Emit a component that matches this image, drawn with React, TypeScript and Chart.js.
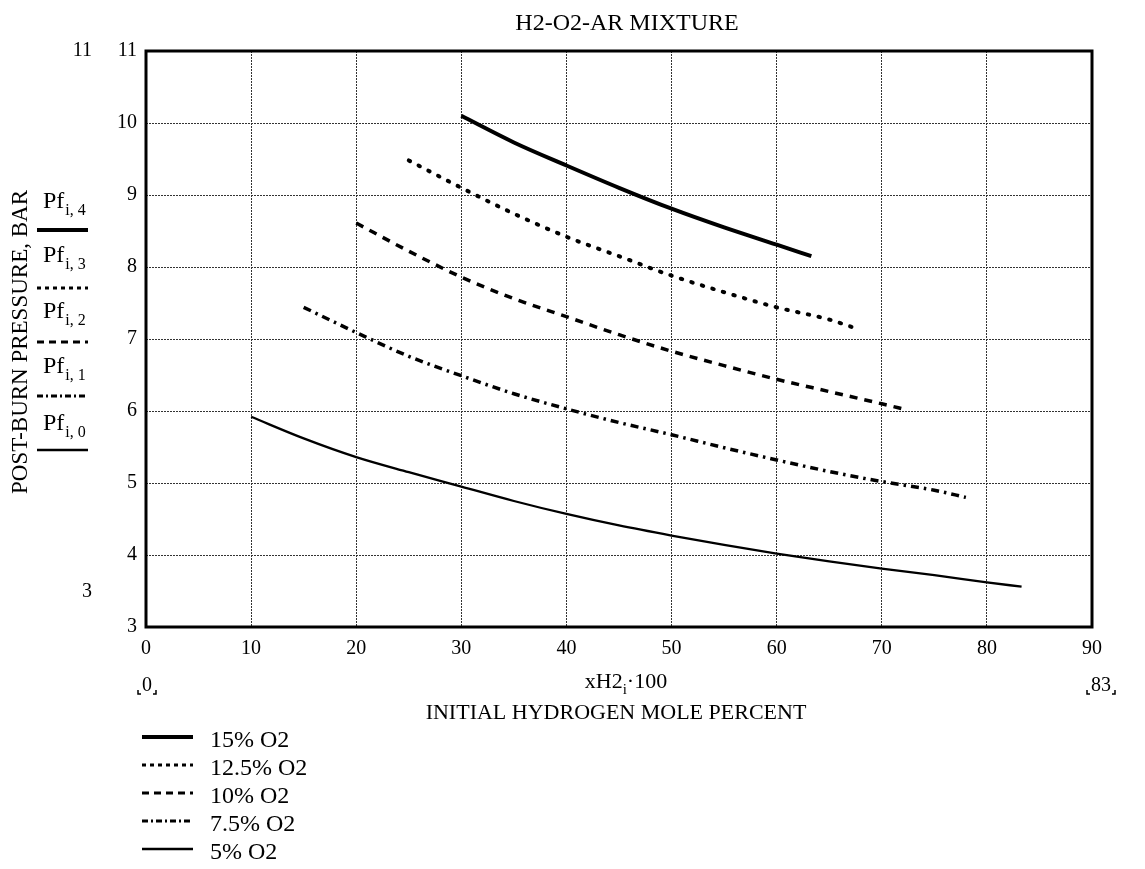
import React, { useEffect, useRef } from "react";
import { Chart, registerables } from "chart.js";

Chart.register(...registerables);

// ---- Data ----
const X_MIN = 0;
const X_MAX = 90;
const Y_MIN = 3;
const Y_MAX = 11;

const x15 = [30, 35, 40, 45, 50, 55, 60, 63.3];
const y15 = [10.1, 9.73, 9.41, 9.1, 8.81, 8.55, 8.31, 8.15];

const x125 = [25, 30, 35, 40, 45, 50, 55, 60, 65, 67.5];
const y125 = [9.48, 9.1, 8.74, 8.42, 8.15, 7.88, 7.65, 7.44, 7.27, 7.15];

const x10 = [20, 25, 30, 35, 40, 45, 50, 55, 60, 65, 70, 72.3];
const y10 = [8.61, 8.22, 7.86, 7.56, 7.31, 7.06, 6.83, 6.63, 6.44, 6.27, 6.1, 6.02];

const x75 = [15, 20, 25, 30, 35, 40, 45, 50, 55, 60, 65, 70, 75, 78];
const y75 = [7.44, 7.09, 6.76, 6.49, 6.24, 6.03, 5.84, 5.67, 5.49, 5.32, 5.16, 5.02, 4.9, 4.8];

const x5 = [10, 15, 20, 25, 30, 35, 40, 45, 50, 55, 60, 65, 70, 75, 80, 83.3];
const y5 = [5.92, 5.62, 5.36, 5.15, 4.95, 4.75, 4.57, 4.41, 4.27, 4.14, 4.02, 3.91, 3.81, 3.72, 3.62, 3.56];

const SERIES_LABELS = ["15% O2", "12.5% O2", "10% O2", "7.5% O2", "5% O2"];
const PF_INDEX = ["4", "3", "2", "1", "0"];

const FONT = '"Liberation Serif", "Times New Roman", serif';
const f = (s: number) => `${s}px ${FONT}`;

const pts = (xs: number[], ys: number[]) => xs.map((x, i) => ({ x, y: ys[i] }));

// styles for the plotted curves
const STYLES = [
  { width: 4, dash: [] as number[], cap: "butt" },
  { width: 4, dash: [1.5, 9.5], cap: "round" },
  { width: 3.5, dash: [8, 7], cap: "butt" },
  { width: 3.5, dash: [8, 5, 2.5, 5], cap: "butt" },
  { width: 2.3, dash: [] as number[], cap: "butt" },
];

// small legend-line styles
const LEG_STYLES = [
  { width: 4, dash: [] as number[] },
  { width: 3, dash: [4, 4] },
  { width: 3, dash: [7, 5] },
  { width: 3, dash: [6, 3, 2, 3] },
  { width: 2.5, dash: [] as number[] },
];

function drawLegendLine(ctx: CanvasRenderingContext2D, x1: number, x2: number, y: number, st: { width: number; dash: number[] }) {
  ctx.save();
  ctx.strokeStyle = "#000";
  ctx.lineWidth = st.width;
  ctx.setLineDash(st.dash);
  ctx.beginPath();
  ctx.moveTo(x1, y);
  ctx.lineTo(x2, y);
  ctx.stroke();
  ctx.restore();
}

function bracketText(ctx: CanvasRenderingContext2D, text: string, cx: number, cy: number) {
  ctx.font = f(20);
  ctx.textAlign = "center";
  ctx.textBaseline = "middle";
  ctx.fillText(text, cx, cy);
  const w = ctx.measureText(text).width;
  const bl = cy + 8;
  ctx.save();
  ctx.lineWidth = 1.5;
  ctx.beginPath();
  ctx.moveTo(cx - w / 2 - 4, bl - 4);
  ctx.lineTo(cx - w / 2 - 4, bl);
  ctx.lineTo(cx - w / 2 - 1, bl);
  ctx.moveTo(cx + w / 2 + 1, bl);
  ctx.lineTo(cx + w / 2 + 4, bl);
  ctx.lineTo(cx + w / 2 + 4, bl - 4);
  ctx.stroke();
  ctx.restore();
}

const annotPlugin = {
  id: "annot",
  afterDraw(chart: any) {
    const ctx: CanvasRenderingContext2D = chart.ctx;
    const a = chart.chartArea;
    ctx.save();
    ctx.fillStyle = "#000";
    ctx.strokeStyle = "#000";

    // frame
    ctx.lineWidth = 3;
    ctx.strokeRect(a.left, a.top, a.right - a.left, a.bottom - a.top);

    // title
    ctx.font = f(24);
    ctx.textAlign = "center";
    ctx.textBaseline = "middle";
    ctx.fillText("H2-O2-AR MIXTURE", 627, 24);

    // y title
    ctx.save();
    ctx.translate(21, 342);
    ctx.rotate(-Math.PI / 2);
    ctx.font = f(23);
    ctx.fillText("POST-BURN PRESSURE, BAR", 0, 0);
    ctx.restore();

    // extra range labels at left
    ctx.font = f(20);
    ctx.textAlign = "right";
    ctx.fillText("11", 92, 51);
    ctx.fillText("3", 92, 592);

    // Pf labels with line styles
    const baselines = [208, 262, 318, 373, 430];
    const lines = [230, 288, 342, 396, 450];
    for (let i = 0; i < 5; i++) {
      ctx.textAlign = "left";
      ctx.textBaseline = "alphabetic";
      ctx.font = f(24);
      ctx.fillText("Pf", 43, baselines[i]);
      const w = ctx.measureText("Pf").width;
      ctx.font = f(16);
      ctx.fillText("i, " + PF_INDEX[i], 43 + w + 1, baselines[i] + 7);
      drawLegendLine(ctx, 37, 88, lines[i], LEG_STYLES[i]);
    }

    // x-axis expression and label
    ctx.textBaseline = "alphabetic";
    const part1 = "xH2";
    const part2 = "\u00b7100";
    ctx.font = f(22);
    const w1 = ctx.measureText(part1).width;
    const w2 = ctx.measureText(part2).width;
    ctx.font = f(15);
    const ws = ctx.measureText("i").width;
    const total = w1 + ws + w2;
    const sx = 626 - total / 2;
    ctx.textAlign = "left";
    ctx.font = f(22);
    ctx.fillText(part1, sx, 688);
    ctx.font = f(15);
    ctx.fillText("i", sx + w1, 694);
    ctx.font = f(22);
    ctx.fillText(part2, sx + w1 + ws, 688);

    ctx.textAlign = "center";
    ctx.textBaseline = "middle";
    ctx.fillText("INITIAL HYDROGEN MOLE PERCENT", 616, 713);

    // range markers
    bracketText(ctx, "0", 147, 686);
    bracketText(ctx, "83", 1101, 686);

    // legend
    const ly = [737, 765, 793, 821, 849];
    for (let i = 0; i < 5; i++) {
      drawLegendLine(ctx, 142, 193, ly[i], LEG_STYLES[i]);
      ctx.font = f(24);
      ctx.textAlign = "left";
      ctx.textBaseline = "middle";
      ctx.fillStyle = "#000";
      ctx.fillText(SERIES_LABELS[i], 210, ly[i] + 4);
    }
    ctx.restore();
  },
};

export default function App() {
  const ref = useRef<HTMLCanvasElement | null>(null);

  useEffect(() => {
    if (!ref.current) return;
    const seriesPts = [pts(x15, y15), pts(x125, y125), pts(x10, y10), pts(x75, y75), pts(x5, y5)];
    const chart = new Chart(ref.current, {
      type: "scatter",
      data: {
        datasets: seriesPts.map((d, i) => ({
          label: SERIES_LABELS[i],
          data: d,
          showLine: true,
          pointRadius: 0,
          borderColor: "#000",
          backgroundColor: "#000",
          borderWidth: STYLES[i].width,
          borderDash: STYLES[i].dash,
          borderCapStyle: STYLES[i].cap as any,
          cubicInterpolationMode: "monotone" as const,
          fill: false,
        })),
      },
      options: {
        responsive: false,
        animation: false,
        events: [],
        layout: { padding: { left: 0, top: 51, right: 53, bottom: 0 } },
        plugins: {
          legend: { display: false },
          title: { display: false },
          tooltip: { enabled: false },
        },
        scales: {
          x: {
            type: "linear",
            min: X_MIN,
            max: X_MAX,
            afterFit: (s: any) => {
              s.height = 242;
            },
            ticks: {
              stepSize: 10,
              color: "#000",
              font: { family: FONT, size: 20 },
              padding: 10,
              maxRotation: 0,
            },
            grid: { color: "#333", lineWidth: 1, drawTicks: false },
            border: { display: false, dash: [2, 1] },
          },
          y: {
            type: "linear",
            min: Y_MIN,
            max: Y_MAX,
            afterFit: (s: any) => {
              s.width = 146;
            },
            ticks: {
              stepSize: 1,
              color: "#000",
              font: { family: FONT, size: 20 },
              padding: 9,
            },
            grid: { color: "#333", lineWidth: 1, drawTicks: false },
            border: { display: false, dash: [2, 1] },
          },
        },
      },
      plugins: [annotPlugin],
    });
    return () => chart.destroy();
  }, []);

  return (
    <div style={{ position: "fixed", left: 0, top: 0, width: 1145, height: 869, background: "#fff" }}>
      <canvas ref={ref} width={1145} height={869} style={{ display: "block" }} />
    </div>
  );
}
